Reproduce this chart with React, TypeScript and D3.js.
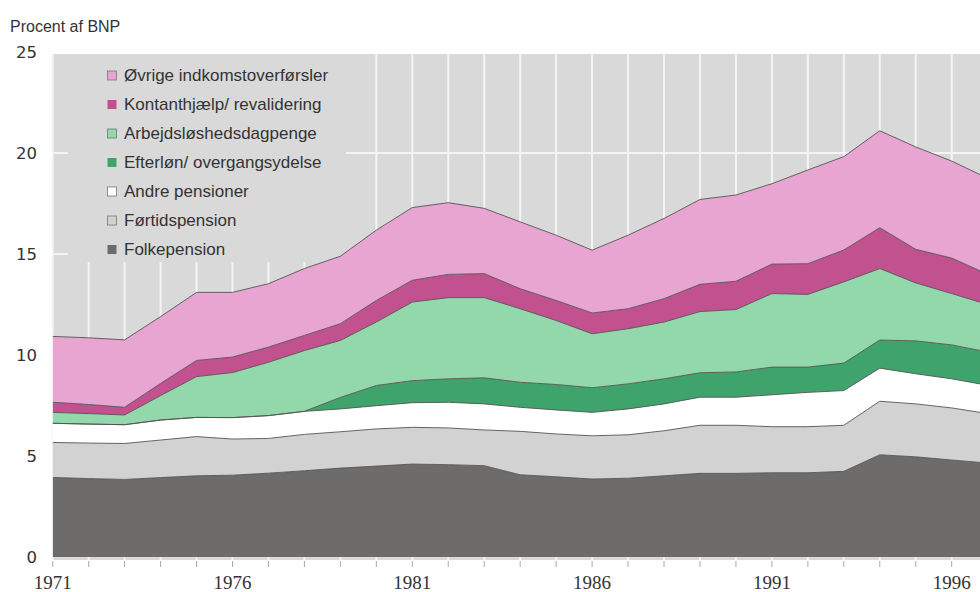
import React from 'react';
import * as d3 from 'd3';

const years = [1971, 1972, 1973, 1974, 1975, 1976, 1977, 1978, 1979, 1980, 1981, 1982, 1983, 1984, 1985, 1986, 1987, 1988, 1989, 1990, 1991, 1992, 1993, 1994, 1995, 1996, 1997];
const folkepension = [3.94, 3.88, 3.84, 3.93, 4.02, 4.05, 4.15, 4.27, 4.40, 4.50, 4.60, 4.57, 4.52, 4.07, 3.97, 3.86, 3.90, 4.02, 4.14, 4.14, 4.17, 4.17, 4.24, 5.06, 4.96, 4.80, 4.65];
const foertidspension = [1.73, 1.76, 1.78, 1.86, 1.94, 1.79, 1.72, 1.80, 1.80, 1.84, 1.82, 1.82, 1.77, 2.15, 2.12, 2.14, 2.15, 2.23, 2.38, 2.38, 2.28, 2.28, 2.28, 2.65, 2.62, 2.58, 2.45];
const andrePensioner = [0.95, 0.94, 0.93, 0.99, 0.95, 1.06, 1.13, 1.14, 1.13, 1.15, 1.22, 1.27, 1.29, 1.19, 1.19, 1.16, 1.28, 1.33, 1.39, 1.39, 1.58, 1.70, 1.72, 1.64, 1.49, 1.44, 1.40];
const efterloen = [0, 0, 0, 0, 0, 0, 0, 0, 0.57, 1.00, 1.09, 1.16, 1.29, 1.24, 1.26, 1.22, 1.24, 1.24, 1.21, 1.25, 1.37, 1.25, 1.36, 1.39, 1.63, 1.68, 1.65];
const arbejdsloeshed = [0.54, 0.52, 0.48, 1.21, 2.02, 2.23, 2.64, 3.01, 2.82, 3.14, 3.89, 4.02, 3.97, 3.64, 3.17, 2.67, 2.73, 2.81, 3.03, 3.09, 3.64, 3.60, 4.02, 3.54, 2.87, 2.54, 2.35];
const kontanthjaelp = [0.50, 0.45, 0.38, 0.60, 0.80, 0.77, 0.75, 0.75, 0.83, 1.07, 1.08, 1.15, 1.19, 0.99, 0.99, 1.03, 0.99, 1.16, 1.35, 1.40, 1.46, 1.52, 1.58, 2.02, 1.66, 1.76, 1.50];
const oevrige = [3.26, 3.30, 3.34, 3.31, 3.37, 3.20, 3.14, 3.31, 3.34, 3.48, 3.60, 3.55, 3.23, 3.31, 3.23, 3.11, 3.64, 3.97, 4.20, 4.27, 3.98, 4.64, 4.62, 4.80, 5.07, 4.80, 4.75];

const seriesKeys = ['folke', 'foertid', 'andre', 'efter', 'arbejd', 'kontant', 'oevrige'];
const seriesNames = ['Folkepension', 'Førtidspension', 'Andre pensioner', 'Efterløn/ overgangsydelse', 'Arbejdsløshedsdagpenge', 'Kontanthjælp/ revalidering', 'Øvrige indkomstoverførsler'];
const seriesColors = ['#6e6b6b', '#d2d2d2', '#ffffff', '#3fa46c', '#92d8aa', '#c2518f', '#e8a5d2'];
const seriesData = [folkepension, foertidspension, andrePensioner, efterloen, arbejdsloeshed, kontanthjaelp, oevrige];
const yTicks = [0, 5, 10, 15, 20, 25];
const yGrid = [5, 10, 15, 20];
const xLabelYears = [1971, 1976, 1981, 1986, 1991, 1996];

export default function App() {
  const W = 980, H = 592;
  const x = d3.scaleLinear().domain([1971, 1996]).range([52.7, 951.7]);
  const y = d3.scaleLinear().domain([0, 25]).range([557, 52]);

  const rows = years.map((yr, i) => {
    const r: any = { year: yr };
    seriesKeys.forEach((k, j) => { r[k] = seriesData[j][i]; });
    return r;
  });
  const stacked = d3.stack<any>().keys(seriesKeys)(rows);
  const area = d3.area<any>().x(d => x(d.data.year)).y0(d => y(d[0])).y1(d => y(d[1])).curve(d3.curveLinear);
  const topLine = d3.line<any>().x(d => x(d.data.year)).y(d => y(d[1])).curve(d3.curveLinear);

  const plotLeft = x(1971);
  const plotTop = y(25) + 2;
  const plotBottom = 560;
  const sans = "'Liberation Sans', Arial, sans-serif";

  const legendOrder = [6, 5, 4, 3, 2, 1, 0];
  const legendY0 = 75;
  const legendStep = 29;

  return (
    <svg width={W} height={H} style={{ position: 'absolute', left: 0, top: 0, background: '#fff' }}>
      <defs>
        <clipPath id="plotclip">
          <rect x={plotLeft} y={plotTop} width={W - plotLeft} height={plotBottom - plotTop} />
        </clipPath>
      </defs>
      <text x={10} y={32} fontFamily={sans} fontSize={16} fill="#333">Procent af BNP</text>
      <rect x={plotLeft} y={plotTop} width={W - plotLeft} height={plotBottom - plotTop} fill="#d9d9d9" />
      <g clipPath="url(#plotclip)">
        {years.map(yr => (
          <line key={'vg' + yr} x1={x(yr)} x2={x(yr)} y1={plotTop} y2={plotBottom} stroke="#f4f4f4" strokeWidth={2} />
        ))}
        {yGrid.map(v => (
          <line key={'hg' + v} x1={plotLeft} x2={W} y1={y(v)} y2={y(v)} stroke="#f4f4f4" strokeWidth={2} />
        ))}
        <rect x={68} y={plotTop} width={278} height={262 - plotTop} fill="#d9d9d9" />
        {stacked.map((s, i) => (
          <path key={'a' + i} d={area(s) || ''} fill={seriesColors[i]} />
        ))}
        {stacked.map((s, i) => (
          <path key={'l' + i} d={topLine(s) || ''} fill="none" stroke="#555" strokeWidth={0.9} strokeLinejoin="round" />
        ))}
      </g>
      {years.map(yr => (
        <line key={'t' + yr} x1={x(yr)} x2={x(yr)} y1={561} y2={567} stroke="#aaa" strokeWidth={1} />
      ))}
      {yTicks.map(v => (
        <text key={'yl' + v} x={37} y={y(v)} dy="0.36em" textAnchor="end" fontFamily="'DejaVu Sans', sans-serif" fontSize={16.5} fill="#333">{v}</text>
      ))}
      {xLabelYears.map(yr => (
        <text key={'xl' + yr} x={x(yr)} y={589} textAnchor="middle" fontFamily="'Liberation Serif', 'Times New Roman', serif" fontSize={19} fill="#333">{yr}</text>
      ))}
      {legendOrder.map((si, k) => {
        const cy = legendY0 + k * legendStep;
        return (
          <g key={'lg' + si}>
            <rect x={107.5} y={cy - 4} width={9} height={9} fill={seriesColors[si]} stroke={si === 0 || si === 3 || si === 5 ? 'none' : '#777'} strokeWidth={0.8} />
            <text x={124} y={cy} dy="0.36em" fontFamily={sans} fontSize={17} fill="#333">{seriesNames[si]}</text>
          </g>
        );
      })}
    </svg>
  );
}
